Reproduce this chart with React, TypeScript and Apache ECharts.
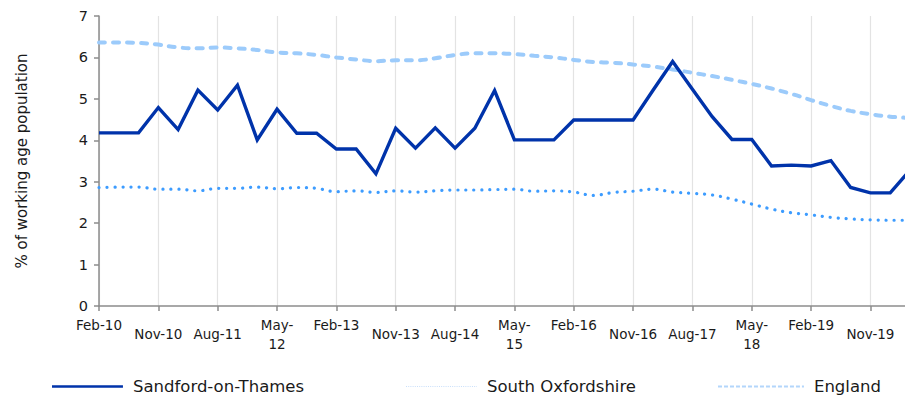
import React, { useEffect, useRef } from "react";
import * as echarts from "echarts";

const categories: string[] = [
  "Feb-10", "May-10", "Aug-10", "Nov-10",
  "Feb-11", "May-11", "Aug-11", "Nov-11",
  "Feb-12", "May-12", "Aug-12", "Nov-12",
  "Feb-13", "May-13", "Aug-13", "Nov-13",
  "Feb-14", "May-14", "Aug-14", "Nov-14",
  "Feb-15", "May-15", "Aug-15", "Nov-15",
  "Feb-16", "May-16", "Aug-16", "Nov-16",
  "Feb-17", "May-17", "Aug-17", "Nov-17",
  "Feb-18", "May-18", "Aug-18", "Nov-18",
  "Feb-19", "May-19", "Aug-19", "Nov-19",
  "Feb-20", "May-20",
];

const sandford: number[] = [
  4.18, 4.18, 4.18, 4.79, 4.26, 5.21, 4.73, 5.33, 4.01, 4.75, 4.17, 4.17,
  3.79, 3.79, 3.19, 4.29, 3.81, 4.3, 3.81, 4.29, 5.2, 4.01, 4.01, 4.01,
  4.49, 4.49, 4.49, 4.49, 5.2, 5.9, 5.23, 4.57, 4.02, 4.02, 3.38, 3.4,
  3.38, 3.51, 2.86, 2.73, 2.73, 3.28,
];

const southOxfordshire: number[] = [
  2.86, 2.87, 2.87, 2.82, 2.82, 2.78, 2.84, 2.84, 2.87, 2.83, 2.86, 2.84,
  2.76, 2.78, 2.74, 2.78, 2.75, 2.78, 2.8, 2.8, 2.81, 2.82, 2.77, 2.78,
  2.75, 2.67, 2.74, 2.77, 2.82, 2.75, 2.72, 2.68, 2.58, 2.46, 2.34, 2.25,
  2.2, 2.14, 2.1, 2.08, 2.07, 2.07,
];

const england: number[] = [
  6.36, 6.36, 6.35, 6.31, 6.24, 6.22, 6.24, 6.22, 6.18, 6.12, 6.1, 6.06,
  6.0, 5.95, 5.91, 5.93, 5.93, 5.98, 6.06, 6.1, 6.1, 6.08, 6.04, 6.0,
  5.94, 5.89, 5.87, 5.83, 5.78, 5.71, 5.63, 5.55, 5.46, 5.36, 5.25, 5.12,
  4.97, 4.83, 4.71, 4.63, 4.57, 4.54,
];

const seriesNames: string[] = ["Sandford-on-Thames", "South Oxfordshire", "England"];
const yTicks: number[] = [0, 1, 2, 3, 4, 5, 6, 7];

const FONT = "DejaVu Sans";
const TEXT = "#1a1a1a";
const C_SAND = "#0033AA";
const C_SOX = "#3D9CFF";
const C_ENG = "#9CCBFB";

// legend icon: a row of small rectangles (dash pattern) as an SVG path
function dashIcon(total: number, dash: number, gap: number, h: number): string {
  let d = "";
  for (let x = 0; x < total; x += dash + gap) {
    const w = Math.min(dash, total - x);
    d += `M${x},${7 - h / 2}h${w}v${h}h${-w}Z`;
  }
  return "path://M0,0h0.01v0.01h-0.01ZM0,14h0.01v0.01h-0.01Z" + d;
}

export default function App() {
  const ref = useRef<HTMLDivElement>(null);

  useEffect(() => {
    if (!ref.current) return;
    const chart = echarts.init(ref.current, undefined, { renderer: "svg" });
    const legendText = { fontFamily: FONT, fontSize: 16.5, color: TEXT, padding: [0, 0, 0, 5] };
    const option: any = {
      animation: false,
      textStyle: { fontFamily: FONT },
      grid: { left: 99, right: 0, top: 16, bottom: 94, containLabel: false },
      legend: [
        {
          left: 47,
          top: 373,
          itemWidth: 71,
          itemHeight: 14,
          itemGap: 0,
          data: [{ name: seriesNames[0], icon: dashIcon(71, 71, 0, 2.5) }],
          textStyle: legendText,
          itemStyle: { color: C_SAND },
        },
        {
          left: 401,
          top: 373,
          itemWidth: 71,
          itemHeight: 14,
          data: [{ name: seriesNames[1], icon: dashIcon(71, 1, 1.2, 1) }],
          itemStyle: { color: "#c9dffa" },
          textStyle: legendText,
        },
        {
          left: 713,
          top: 373,
          itemWidth: 86,
          itemHeight: 14,
          data: [{ name: seriesNames[2], icon: dashIcon(86, 4, 2, 2) }],
          itemStyle: { color: "#b3d6fb" },
          textStyle: legendText,
        },
      ],
      xAxis: {
        type: "category",
        data: categories,
        boundaryGap: false,
        axisLine: { show: true, lineStyle: { color: "#8c8c8c", width: 1.5 } },
        axisTick: { show: true, interval: 2, length: 5, lineStyle: { color: "#8c8c8c", width: 1.5 } },
        splitLine: { show: true, interval: 2, lineStyle: { color: "#e3e3e3", width: 1.2 } },
        axisLabel: {
          interval: 2,
          margin: 9,
          color: TEXT,
          fontFamily: FONT,
          fontSize: 13.5,
          formatter: (v: string) => {
            const [m, y] = v.split("-");
            if (m === "May") return "{a|May-}\n{a|" + y + "}";
            if (m === "Feb") return "{a|" + v + "}";
            return "{b|" + v + "}";
          },
          rich: {
            a: { lineHeight: 19, fontSize: 13.5, fontFamily: FONT, color: TEXT },
            b: { lineHeight: 38, fontSize: 13.5, fontFamily: FONT, color: TEXT },
          },
        },
      },
      yAxis: {
        type: "value",
        min: yTicks[0],
        max: yTicks[yTicks.length - 1],
        interval: 1,
        name: "% of working age population",
        nameLocation: "middle",
        nameRotate: 90,
        nameGap: 70,
        nameTextStyle: { fontFamily: FONT, fontSize: 15, color: TEXT },
        axisLine: { show: true, lineStyle: { color: "#8c8c8c", width: 1.5 } },
        axisTick: { show: true, length: 5, lineStyle: { color: "#8c8c8c", width: 1.5 } },
        splitLine: { show: false },
        axisLabel: { color: TEXT, fontFamily: FONT, fontSize: 14.5, margin: 11 },
      },
      series: [
        {
          name: seriesNames[1],
          type: "line",
          data: southOxfordshire,
          smooth: 0.4,
          showSymbol: false,
          symbol: "none",
          color: C_SOX,
          lineStyle: { color: C_SOX, width: 3.2, type: [0.1, 7.9], cap: "round" },
          z: 2,
        },
        {
          name: seriesNames[2],
          type: "line",
          data: england,
          smooth: 0.4,
          showSymbol: false,
          symbol: "none",
          color: C_ENG,
          lineStyle: { color: C_ENG, width: 4, type: [6, 8], cap: "round" },
          z: 2,
        },
        {
          name: seriesNames[0],
          type: "line",
          data: sandford,
          showSymbol: false,
          symbol: "none",
          color: C_SAND,
          lineStyle: { color: C_SAND, width: 3.4, join: "miter" },
          z: 3,
        },
      ],
    };
    chart.setOption(option);
    return () => chart.dispose();
  }, []);

  return (
    <div style={{ position: "absolute", left: 0, top: 0, width: 905, height: 400, overflow: "hidden" }}>
      <div ref={ref} style={{ width: 910, height: 400 }} />
    </div>
  );
}
